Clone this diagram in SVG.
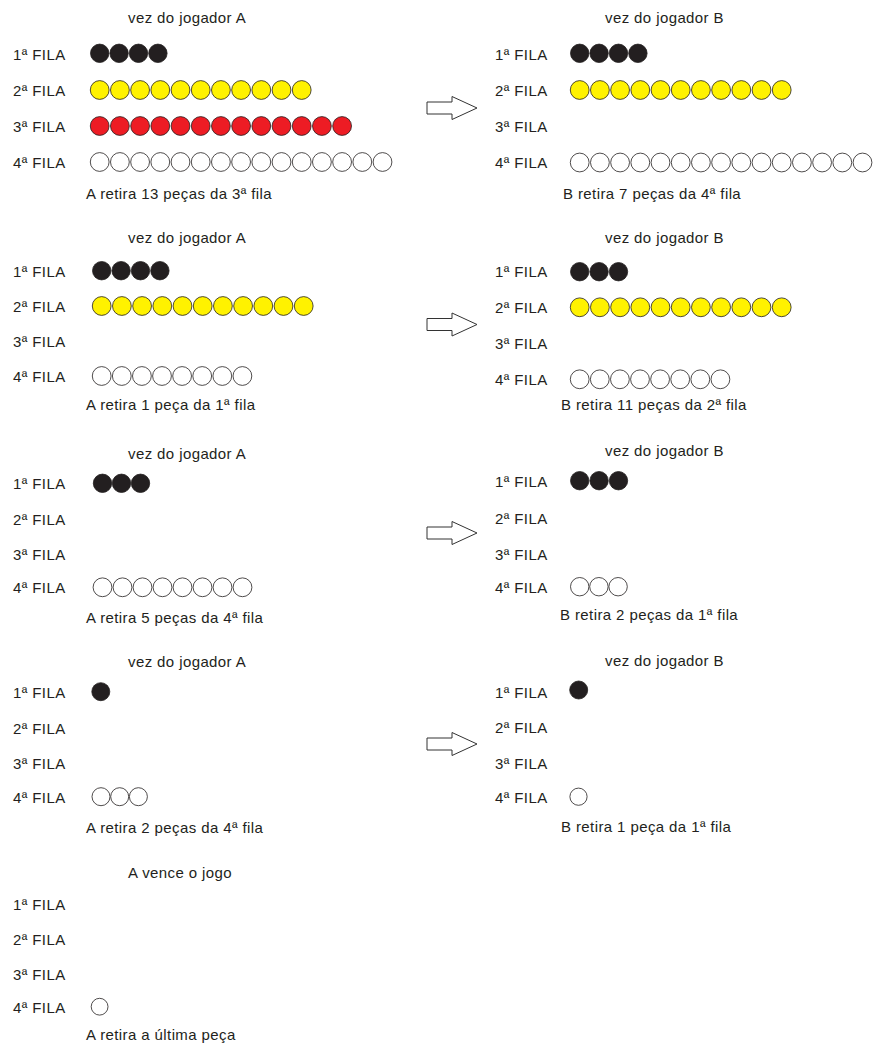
<svg xmlns="http://www.w3.org/2000/svg" width="876" height="1045" viewBox="0 0 876 1045">
<style>
text{font-family:"Liberation Sans",Arial,sans-serif;font-size:15px;letter-spacing:0.4px;fill:#231f20}
circle{stroke:#231f20;stroke-width:0.8}
.k{fill:#231f20}
.y{fill:#fff200}
.r{fill:#ed1c24}
.w{fill:#ffffff}
.arr{fill:#ffffff;stroke:#333333;stroke-width:1}
</style>
<rect width="876" height="1045" fill="#ffffff"/>

<g id="panelA1">
<text x="128" y="23">vez do jogador A</text>
<text x="13" y="60">1ª FILA</text>
<text x="13" y="96">2ª FILA</text>
<text x="13" y="132">3ª FILA</text>
<text x="13" y="168">4ª FILA</text>
<text x="86" y="199">A retira 13 peças da 3ª fila</text>
<g class="k"><circle cx="99.7" cy="53.3" r="9.2"/><circle cx="119.1" cy="53.3" r="9.2"/><circle cx="138.5" cy="53.3" r="9.2"/><circle cx="157.9" cy="53.3" r="9.2"/></g>
<g class="y"><circle cx="99.7" cy="90" r="9.4"/><circle cx="119.9" cy="90" r="9.4"/><circle cx="140.1" cy="90" r="9.4"/><circle cx="160.3" cy="90" r="9.4"/><circle cx="180.5" cy="90" r="9.4"/><circle cx="200.7" cy="90" r="9.4"/><circle cx="220.9" cy="90" r="9.4"/><circle cx="241.1" cy="90" r="9.4"/><circle cx="261.3" cy="90" r="9.4"/><circle cx="281.5" cy="90" r="9.4"/><circle cx="301.7" cy="90" r="9.4"/></g>
<g class="r"><circle cx="99.7" cy="126" r="9.4"/><circle cx="119.9" cy="126" r="9.4"/><circle cx="140.1" cy="126" r="9.4"/><circle cx="160.3" cy="126" r="9.4"/><circle cx="180.5" cy="126" r="9.4"/><circle cx="200.7" cy="126" r="9.4"/><circle cx="220.9" cy="126" r="9.4"/><circle cx="241.1" cy="126" r="9.4"/><circle cx="261.3" cy="126" r="9.4"/><circle cx="281.5" cy="126" r="9.4"/><circle cx="301.7" cy="126" r="9.4"/><circle cx="321.9" cy="126" r="9.4"/><circle cx="342.1" cy="126" r="9.4"/></g>
<g class="w"><circle cx="99.7" cy="162" r="9.4"/><circle cx="119.9" cy="162" r="9.4"/><circle cx="140.1" cy="162" r="9.4"/><circle cx="160.3" cy="162" r="9.4"/><circle cx="180.5" cy="162" r="9.4"/><circle cx="200.7" cy="162" r="9.4"/><circle cx="220.9" cy="162" r="9.4"/><circle cx="241.1" cy="162" r="9.4"/><circle cx="261.3" cy="162" r="9.4"/><circle cx="281.5" cy="162" r="9.4"/><circle cx="301.7" cy="162" r="9.4"/><circle cx="321.9" cy="162" r="9.4"/><circle cx="342.1" cy="162" r="9.4"/><circle cx="362.3" cy="162" r="9.4"/><circle cx="382.5" cy="162" r="9.4"/></g>
</g>

<g id="panelB1">
<text x="605" y="23">vez do jogador B</text>
<text x="495" y="60">1ª FILA</text>
<text x="495" y="96">2ª FILA</text>
<text x="495" y="132">3ª FILA</text>
<text x="495" y="168">4ª FILA</text>
<text x="563" y="199">B retira 7 peças da 4ª fila</text>
<g class="k"><circle cx="579.7" cy="53.3" r="9.2"/><circle cx="599.1" cy="53.3" r="9.2"/><circle cx="618.5" cy="53.3" r="9.2"/><circle cx="637.9" cy="53.3" r="9.2"/></g>
<g class="y"><circle cx="579.7" cy="90" r="9.4"/><circle cx="599.9" cy="90" r="9.4"/><circle cx="620.1" cy="90" r="9.4"/><circle cx="640.3" cy="90" r="9.4"/><circle cx="660.5" cy="90" r="9.4"/><circle cx="680.7" cy="90" r="9.4"/><circle cx="700.9" cy="90" r="9.4"/><circle cx="721.1" cy="90" r="9.4"/><circle cx="741.3" cy="90" r="9.4"/><circle cx="761.5" cy="90" r="9.4"/><circle cx="781.7" cy="90" r="9.4"/></g>
<g class="w"><circle cx="579.7" cy="162.5" r="9.4"/><circle cx="599.9" cy="162.5" r="9.4"/><circle cx="620.1" cy="162.5" r="9.4"/><circle cx="640.3" cy="162.5" r="9.4"/><circle cx="660.5" cy="162.5" r="9.4"/><circle cx="680.7" cy="162.5" r="9.4"/><circle cx="700.9" cy="162.5" r="9.4"/><circle cx="721.1" cy="162.5" r="9.4"/><circle cx="741.3" cy="162.5" r="9.4"/><circle cx="761.5" cy="162.5" r="9.4"/><circle cx="781.7" cy="162.5" r="9.4"/><circle cx="801.9" cy="162.5" r="9.4"/><circle cx="822.1" cy="162.5" r="9.4"/><circle cx="842.3" cy="162.5" r="9.4"/><circle cx="862.5" cy="162.5" r="9.4"/></g>
</g>

<g id="panelA2">
<text x="128" y="243">vez do jogador A</text>
<text x="13" y="277">1ª FILA</text>
<text x="13" y="312">2ª FILA</text>
<text x="13" y="347">3ª FILA</text>
<text x="13" y="382">4ª FILA</text>
<text x="86" y="410">A retira 1 peça da 1ª fila</text>
<g class="k"><circle cx="101.7" cy="270.7" r="9.2"/><circle cx="121.1" cy="270.7" r="9.2"/><circle cx="140.5" cy="270.7" r="9.2"/><circle cx="159.9" cy="270.7" r="9.2"/></g>
<g class="y"><circle cx="101.7" cy="306" r="9.4"/><circle cx="121.9" cy="306" r="9.4"/><circle cx="142.1" cy="306" r="9.4"/><circle cx="162.3" cy="306" r="9.4"/><circle cx="182.5" cy="306" r="9.4"/><circle cx="202.7" cy="306" r="9.4"/><circle cx="222.9" cy="306" r="9.4"/><circle cx="243.1" cy="306" r="9.4"/><circle cx="263.3" cy="306" r="9.4"/><circle cx="283.5" cy="306" r="9.4"/><circle cx="303.7" cy="306" r="9.4"/></g>
<g class="w"><circle cx="101.7" cy="376" r="9.4"/><circle cx="121.8" cy="376" r="9.4"/><circle cx="141.9" cy="376" r="9.4"/><circle cx="162" cy="376" r="9.4"/><circle cx="182.1" cy="376" r="9.4"/><circle cx="202.2" cy="376" r="9.4"/><circle cx="222.3" cy="376" r="9.4"/><circle cx="242.4" cy="376" r="9.4"/></g>
</g>

<g id="panelB2">
<text x="605" y="243">vez do jogador B</text>
<text x="495" y="277">1ª FILA</text>
<text x="495" y="313">2ª FILA</text>
<text x="495" y="349">3ª FILA</text>
<text x="495" y="385">4ª FILA</text>
<text x="561" y="410">B retira 11 peças da 2ª fila</text>
<g class="k"><circle cx="579.7" cy="271.7" r="9.2"/><circle cx="599.1" cy="271.7" r="9.2"/><circle cx="618.5" cy="271.7" r="9.2"/></g>
<g class="y"><circle cx="579.7" cy="307.3" r="9.4"/><circle cx="599.9" cy="307.3" r="9.4"/><circle cx="620.1" cy="307.3" r="9.4"/><circle cx="640.3" cy="307.3" r="9.4"/><circle cx="660.5" cy="307.3" r="9.4"/><circle cx="680.7" cy="307.3" r="9.4"/><circle cx="700.9" cy="307.3" r="9.4"/><circle cx="721.1" cy="307.3" r="9.4"/><circle cx="741.3" cy="307.3" r="9.4"/><circle cx="761.5" cy="307.3" r="9.4"/><circle cx="781.7" cy="307.3" r="9.4"/></g>
<g class="w"><circle cx="579.7" cy="379.3" r="9.4"/><circle cx="599.8" cy="379.3" r="9.4"/><circle cx="619.9" cy="379.3" r="9.4"/><circle cx="640" cy="379.3" r="9.4"/><circle cx="660.1" cy="379.3" r="9.4"/><circle cx="680.2" cy="379.3" r="9.4"/><circle cx="700.3" cy="379.3" r="9.4"/><circle cx="720.4" cy="379.3" r="9.4"/></g>
</g>

<g id="panelA3">
<text x="128" y="459">vez do jogador A</text>
<text x="13" y="489">1ª FILA</text>
<text x="13" y="525">2ª FILA</text>
<text x="13" y="560">3ª FILA</text>
<text x="13" y="593">4ª FILA</text>
<text x="86" y="623">A retira 5 peças da 4ª fila</text>
<g class="k"><circle cx="102.5" cy="483.3" r="9.2"/><circle cx="121.5" cy="483.3" r="9.2"/><circle cx="140.5" cy="483.3" r="9.2"/></g>
<g class="w"><circle cx="102.5" cy="587.3" r="9.4"/><circle cx="122.5" cy="587.3" r="9.4"/><circle cx="142.5" cy="587.3" r="9.4"/><circle cx="162.5" cy="587.3" r="9.4"/><circle cx="182.5" cy="587.3" r="9.4"/><circle cx="202.5" cy="587.3" r="9.4"/><circle cx="222.5" cy="587.3" r="9.4"/><circle cx="242.5" cy="587.3" r="9.4"/></g>
</g>

<g id="panelB3">
<text x="605" y="456">vez do jogador B</text>
<text x="495" y="487">1ª FILA</text>
<text x="495" y="524">2ª FILA</text>
<text x="495" y="560">3ª FILA</text>
<text x="495" y="593">4ª FILA</text>
<text x="560" y="620">B retira 2 peças da 1ª fila</text>
<g class="k"><circle cx="579.7" cy="480.7" r="9.2"/><circle cx="599.1" cy="480.7" r="9.2"/><circle cx="618.5" cy="480.7" r="9.2"/></g>
<g class="w"><circle cx="579.7" cy="586.7" r="9.2"/><circle cx="598.9" cy="586.7" r="9.2"/><circle cx="618.1" cy="586.7" r="9.2"/></g>
</g>

<g id="panelA4">
<text x="128" y="667">vez do jogador A</text>
<text x="13" y="698">1ª FILA</text>
<text x="13" y="734">2ª FILA</text>
<text x="13" y="769">3ª FILA</text>
<text x="13" y="803">4ª FILA</text>
<text x="86" y="833">A retira 2 peças da 4ª fila</text>
<circle class="k" cx="100.8" cy="691.7" r="9"/>
<g class="w"><circle cx="101" cy="796.7" r="9"/><circle cx="119.7" cy="796.7" r="9"/><circle cx="138.4" cy="796.7" r="9"/></g>
</g>

<g id="panelB4">
<text x="605" y="666">vez do jogador B</text>
<text x="495" y="698">1ª FILA</text>
<text x="495" y="733">2ª FILA</text>
<text x="495" y="769">3ª FILA</text>
<text x="495" y="803">4ª FILA</text>
<text x="561" y="832">B retira 1 peça da 1ª fila</text>
<circle class="k" cx="578.7" cy="690" r="9"/>
<circle class="w" cx="578.5" cy="796.7" r="8.6"/>
</g>

<g id="panelA5">
<text x="128" y="878">A vence o jogo</text>
<text x="13" y="910">1ª FILA</text>
<text x="13" y="945">2ª FILA</text>
<text x="13" y="980">3ª FILA</text>
<text x="13" y="1013">4ª FILA</text>
<text x="86" y="1040">A retira a última peça</text>
<circle class="w" cx="99.6" cy="1006.7" r="8.4"/>
</g>

<g id="connectors">
<path class="arr" d="M427,102 H452 V96.5 L477,108 L452,119.5 V114 H427 Z"/>
<path class="arr" d="M427,318.5 H452 V313 L477,324.5 L452,336 V330.5 H427 Z"/>
<path class="arr" d="M427,527 H452 V521.5 L477,533 L452,544.5 V539 H427 Z"/>
<path class="arr" d="M427,738 H452 V732.5 L477,744 L452,755.5 V750 H427 Z"/>
</g>
</svg>
